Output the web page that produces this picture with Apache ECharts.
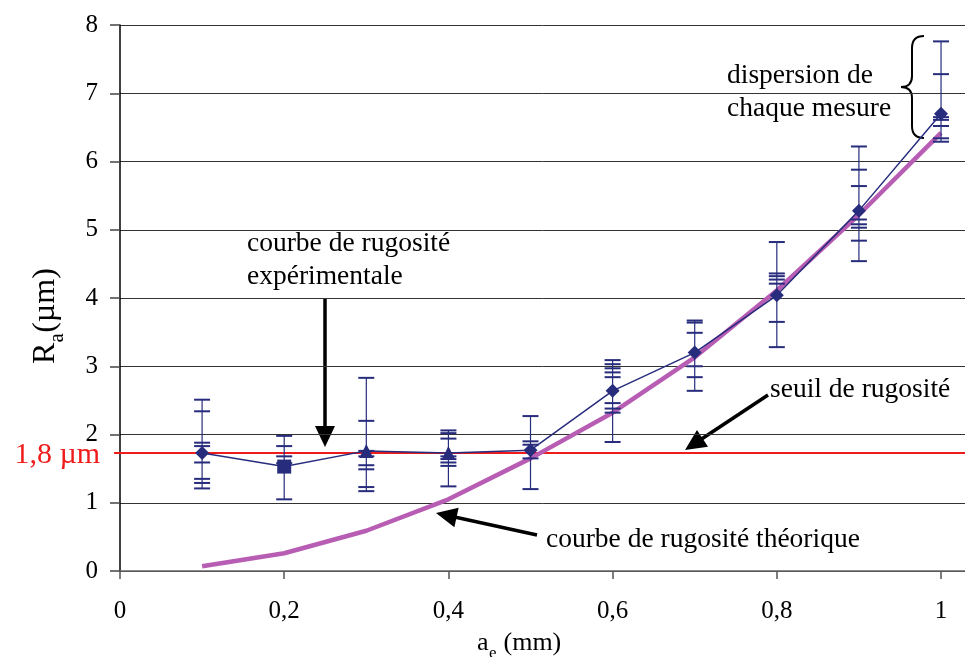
<!DOCTYPE html>
<html>
<head>
<meta charset="utf-8">
<script src="https://cdn.jsdelivr.net/npm/echarts@6/dist/echarts.min.js"></script>
<style>
html,body{margin:0;padding:0;background:#fff;}
#chart{width:965px;height:657px;}
</style>
</head>
<body>
<div id="chart"></div>
<script>
// ---- data ----
const xValues = [0.1, 0.2, 0.3, 0.4, 0.5, 0.6, 0.7, 0.8, 0.9, 1.0];
const expValues = [1.73, 1.53, 1.76, 1.73, 1.77, 2.64, 3.20, 4.04, 5.28, 6.70];
const theoValues = [0.07, 0.26, 0.59, 1.05, 1.65, 2.32, 3.13, 4.11, 5.22, 6.42];
const expSymbols = ['diamond', 'rect', 'triangle', 'triangle', 'diamond', 'diamond', 'diamond', 'diamond', 'diamond', 'diamond'];
const dispersion = [
  [2.51, 2.34, 1.88, 1.83, 1.59, 1.35, 1.29, 1.21],
  [1.98, 1.83, 1.68, 1.58, 1.05],
  [2.83, 2.20, 1.76, 1.68, 1.55, 1.49, 1.23, 1.17],
  [2.06, 2.02, 1.94, 1.68, 1.64, 1.59, 1.54, 1.24],
  [2.27, 1.90, 1.85, 1.65, 1.20],
  [3.09, 3.03, 2.97, 2.91, 2.84, 2.46, 2.38, 2.32, 1.89],
  [3.67, 3.64, 3.49, 3.00, 2.84, 2.64],
  [4.82, 4.36, 4.32, 4.27, 4.21, 3.65, 3.28],
  [6.22, 5.88, 5.64, 5.15, 5.08, 5.03, 4.84, 4.54],
  [7.76, 7.28, 6.65, 6.61, 6.52, 6.34, 6.29]
];
const thresholdValue = 1.73;
const thresholdLabel = '1,8 µm';
const xTickValues = [0, 0.2, 0.4, 0.6, 0.8, 1];
const yMin = 0, yMax = 8, yInterval = 1;

const FONT = '"Liberation Serif", "Times New Roman", serif';
const NAVY = '#272c7c';
const MAGENTA = '#b85db4';

const chart = echarts.init(document.getElementById('chart'));

function arrow(x1, y1, x2, y2) {
  const dx = x2 - x1, dy = y2 - y1;
  const len = Math.sqrt(dx * dx + dy * dy);
  const ux = dx / len, uy = dy / len;
  const hl = 21, hw = 10;
  const bx = x2 - ux * hl, by = y2 - uy * hl;
  return [
    { type: 'line', shape: { x1: x1, y1: y1, x2: bx + ux * 2, y2: by + uy * 2 }, style: { stroke: '#000', lineWidth: 3.5 } },
    { type: 'polygon', shape: { points: [[x2, y2], [bx - uy * hw, by + ux * hw], [bx + uy * hw, by - ux * hw]] }, style: { fill: '#000' } }
  ];
}

function txt(x, y, s) {
  return {
    type: 'text', x: x, y: y,
    style: { text: s, font: '27.5px ' + FONT, fill: '#000', align: 'left', verticalAlign: 'middle' }
  };
}

const BR = { stroke: '#000', lineWidth: 2, fill: null };
const brace = [
  { type: 'bezierCurve', shape: { x1: 924, y1: 36, cpx1: 912, cpy1: 36, x2: 912, y2: 48 }, style: BR },
  { type: 'line', shape: { x1: 912, y1: 48, x2: 912, y2: 76 }, style: BR },
  { type: 'bezierCurve', shape: { x1: 912, y1: 76, cpx1: 912, cpy1: 87, x2: 901, y2: 87 }, style: BR },
  { type: 'bezierCurve', shape: { x1: 901, y1: 87, cpx1: 912, cpy1: 87, x2: 912, y2: 98 }, style: BR },
  { type: 'line', shape: { x1: 912, y1: 98, x2: 912, y2: 126 }, style: BR },
  { type: 'bezierCurve', shape: { x1: 912, y1: 126, cpx1: 912, cpy1: 138, x2: 924, y2: 138 }, style: BR }
];

const graphics = [
  txt(247, 244, 'courbe de rugosité'),
  txt(247, 277, 'expérimentale'),
  txt(727, 76, 'dispersion de'),
  txt(727, 109, 'chaque mesure'),
  txt(770, 390, 'seuil de rugosité'),
  txt(546, 540, 'courbe de rugosité théorique'),
  ...arrow(325, 298, 325, 447),
  ...arrow(768, 395, 685, 450),
  ...arrow(537, 535, 436, 513),
  ...brace,
  // y-axis title R_a(µm), rotated
  { type: 'group', x: 50, y: 317, rotation: Math.PI / 2, children: [
    { type: 'text', x: -47, y: 12, style: { text: 'R', font: '32px ' + FONT, fill: '#000', align: 'left', verticalAlign: 'bottom' } },
    { type: 'text', x: -25.5, y: 18, style: { text: 'a', font: '21px ' + FONT, fill: '#000', align: 'left', verticalAlign: 'bottom' } },
    { type: 'text', x: -15.8, y: 12, style: { text: '(µm)', font: '32px ' + FONT, fill: '#000', align: 'left', verticalAlign: 'bottom' } }
  ]},
  // x-axis title a_e (mm)
  { type: 'text', x: 477, y: 656, style: { text: 'a', font: '26px ' + FONT, fill: '#000', align: 'left', verticalAlign: 'bottom' } },
  { type: 'text', x: 489, y: 662, style: { text: 'e', font: '17px ' + FONT, fill: '#000', align: 'left', verticalAlign: 'bottom' } },
  { type: 'text', x: 497, y: 656, style: { text: ' (mm)', font: '26px ' + FONT, fill: '#000', align: 'left', verticalAlign: 'bottom' } }
];

const option = {
  animation: false,
  backgroundColor: '#fff',
  grid: { left: 120, right: 0, top: 25, bottom: 86, containLabel: false },
  xAxis: {
    type: 'value', min: 0, max: 1.0292,
    axisLine: { show: true, lineStyle: { color: '#666', width: 1.5 } },
    axisTick: { show: true, length: 8, lineStyle: { color: '#555', width: 1.5 }, customValues: xTickValues },
    axisLabel: {
      customValues: xTickValues, margin: 28,
      formatter: v => String(Math.round(v * 10) / 10).replace('.', ','),
      fontFamily: FONT, fontSize: 25, color: '#000'
    },
    splitLine: { show: false }
  },
  yAxis: {
    type: 'value', min: yMin, max: yMax, interval: yInterval,
    axisLine: { show: true, lineStyle: { color: '#000', width: 1.5 } },
    axisTick: { show: true, length: 10, lineStyle: { color: '#444', width: 1.5 } },
    axisLabel: { fontFamily: FONT, fontSize: 25, color: '#000', margin: 22 },
    splitLine: { show: true, lineStyle: { color: '#333', width: 1 } }
  },
  series: [
    {
      name: 'seuil', type: 'custom', z: 3,
      data: [[0, thresholdValue]],
      renderItem: function (params, api) {
        const p = api.coord([api.value(0), api.value(1)]);
        return { type: 'group', children: [
          { type: 'line', shape: { x1: p[0] - 6, y1: p[1], x2: api.getWidth(), y2: p[1] }, style: { stroke: '#f01c1c', lineWidth: 2 } },
          { type: 'text', x: p[0] - 20, y: p[1] + 2, style: { text: thresholdLabel, font: '30px ' + FONT, fill: '#f01c1c', align: 'right', verticalAlign: 'middle' } }
        ]};
      }
    },
    {
      name: 'theorique', type: 'line', z: 4,
      data: xValues.map((x, i) => [x, theoValues[i]]),
      showSymbol: false, symbol: 'none',
      lineStyle: { color: MAGENTA, width: 4.5 }
    },
    {
      name: 'dispersion', type: 'custom', z: 5,
      data: xValues.map((x, i) => [x, Math.min(...dispersion[i]), Math.max(...dispersion[i])]),
      encode: { x: 0, y: [1, 2] },
      renderItem: function (params, api) {
        const x = api.value(0);
        const caps = dispersion[params.dataIndex];
        const top = api.coord([x, api.value(2)]);
        const bot = api.coord([x, api.value(1)]);
        const children = [
          { type: 'line', shape: { x1: top[0], y1: top[1], x2: bot[0], y2: bot[1] }, style: { stroke: NAVY, lineWidth: 1.2 } }
        ];
        caps.forEach(c => {
          const p = api.coord([x, c]);
          children.push({ type: 'line', shape: { x1: p[0] - 8, y1: p[1], x2: p[0] + 8, y2: p[1] }, style: { stroke: NAVY, lineWidth: 2 } });
        });
        return { type: 'group', children: children };
      }
    },
    {
      name: 'experimentale', type: 'line', z: 6,
      data: xValues.map((x, i) => ({ value: [x, expValues[i]], symbol: expSymbols[i] })),
      symbolSize: 14,
      itemStyle: { color: NAVY },
      lineStyle: { color: NAVY, width: 1.5 }
    }
  ],
  graphic: graphics
};
chart.setOption(option);
</script>
</body>
</html>
